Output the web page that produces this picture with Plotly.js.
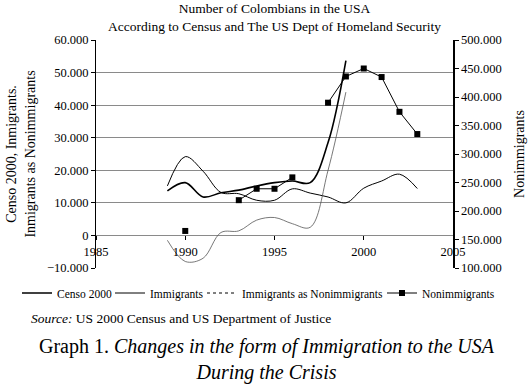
<!DOCTYPE html>
<html>
<head>
<meta charset="utf-8">
<script src="https://cdn.plot.ly/plotly-3.0.1.min.js"></script>
<style>
  html, body { margin: 0; padding: 0; background: #fff; }
  #grafico { width: 531px; height: 385px; }
</style>
</head>
<body>
<div id="grafico"></div>
<script>
// datos
const anios = [1989, 1990, 1991, 1992, 1993, 1994, 1995, 1996, 1997, 1998, 1999, 2000, 2001, 2002, 2003];
const censo2000 = [13700, 16200, 11800, 13100, 13900, 15200, 16200, 16700, 16200, 28500, 53700];
const inmigrantes = [15200, 24200, 19700, 13200, 12800, 10800, 10800, 14300, 13000, 11800, 10000, 14500, 16700, 18800, 14400];
const inmComoNoInm = [-1500, -8000, -7000, 900, 1400, 4700, 5500, 3600, 2500, 20000, 44000];
const noInmigrantes = [null, 165000, null, null, 219000, 239000, 239000, 259000, null, 390000, 436000, 450000, 435000, 374000, 335000];

const fuente = "Liberation Serif";

const trazas = [
    {
        x: anios.slice(0, censo2000.length),
        y: censo2000,
        type: "scatter",
        mode: "lines",
        name: "Censo 2000",
        legendwidth: 48,
        line: { color: "#000", width: 1.6, shape: "spline" }
    },
    {
        x: anios,
        y: inmigrantes,
        type: "scatter",
        mode: "lines",
        name: "Immigrants",
        legendwidth: 47,
        line: { color: "#000", width: 1, shape: "spline" }
    },
    {
        x: anios.slice(0, inmComoNoInm.length),
        y: inmComoNoInm,
        type: "scatter",
        mode: "lines",
        name: "Immigrants as Nonimmigrants",
        legendgroup: "ian",
        showlegend: false,
        line: { color: "#555", width: 0.8, shape: "spline" }
    },
    {
        // solo para la leyenda (linea discontinua)
        x: [null],
        y: [null],
        type: "scatter",
        mode: "lines",
        name: "Immigrants as Nonimmigrants",
        legendgroup: "ian",
        line: { color: "#000", width: 1, dash: "3px,3px" }
    },
    {
        x: anios,
        y: noInmigrantes,
        type: "scatter",
        mode: "lines+markers",
        name: "Nonimmigrants",
        yaxis: "y2",
        legend: "legend2",
        connectgaps: false,
        line: { color: "#000", width: 1 },
        marker: { symbol: "square", size: 6, color: "#000" }
    }
];

const layout = {
    width: 531,
    height: 385,
    margin: { l: 96, r: 78, t: 40, b: 117 },
    paper_bgcolor: "#fff",
    plot_bgcolor: "#fff",
    separators: ",.",
    font: { family: fuente, size: 12, color: "#000" },
    showlegend: true,
    title: {
        text: "Number of Colombians in the USA<br>According to Census and The US Dept of Homeland Security",
        font: { family: fuente, size: 13.5, color: "#000" },
        x: 0.5,
        xref: "paper",
        y: 1 - 13 / 385,
        yref: "container",
        yanchor: "middle"
    },
    xaxis: {
        range: [1985, 2005],
        dtick: 5,
        tick0: 1985,
        anchor: "free",
        position: 1 / 7,
        showgrid: false,
        zeroline: false,
        showline: false,
        ticks: "outside",
        ticklen: 4,
        tickcolor: "#000",
        ticklabelstandoff: 1,
        tickfont: { family: fuente, size: 12.5 }
    },
    yaxis: {
        range: [-10000, 60000],
        dtick: 10000,
        tickformat: ",d",
        showgrid: true,
        gridcolor: "#8a8a8a",
        gridwidth: 1,
        zeroline: false,
        showline: true,
        linecolor: "#000",
        linewidth: 1,
        ticks: "outside",
        ticklen: 4,
        tickcolor: "#000",
        tickfont: { family: fuente, size: 12.5 },
        automargin: false,
        title: {
            text: "Censo 2000, Inmigrants.<br>Inmigrants as Nonimmigrants",
            font: { family: fuente, size: 14 },
            standoff: 8
        }
    },
    yaxis2: {
        range: [100000, 500000],
        dtick: 50000,
        tickformat: ",d",
        overlaying: "y",
        side: "right",
        showgrid: false,
        zeroline: false,
        showline: true,
        linecolor: "#000",
        linewidth: 1.6,
        ticks: "outside",
        ticklen: 4,
        tickcolor: "#000",
        tickfont: { family: fuente, size: 12.5 },
        automargin: false,
        title: {
            text: "Nonimmigrants",
            font: { family: fuente, size: 14 },
            standoff: 13
        }
    },
    legend: {
        orientation: "h",
        xref: "paper",
        yref: "paper",
        x: (17 - 96) / 357,
        y: -(293 - 268) / 228,
        xanchor: "left",
        yanchor: "middle",
        itemwidth: 30,
        font: { family: fuente, size: 11.5 },
        bgcolor: "rgba(0,0,0,0)"
    },
    legend2: {
        orientation: "h",
        xref: "paper",
        yref: "paper",
        x: (382 - 96) / 357,
        y: -(293 - 268) / 228,
        xanchor: "left",
        yanchor: "middle",
        itemwidth: 30,
        font: { family: fuente, size: 11.5 },
        bgcolor: "rgba(0,0,0,0)"
    },
    annotations: [
        {
            text: "<i>Source:</i> US 2000 Census and US Department of Justice",
            xref: "paper",
            yref: "paper",
            x: -67 / 357,
            y: -(318 - 268) / 228,
            xanchor: "left",
            yanchor: "middle",
            showarrow: false,
            font: { family: fuente, size: 13.5 }
        },
        {
            text: "Graph 1. <i>Changes in the form of Immigration to the USA</i><br><i>During the Crisis</i>",
            xref: "paper",
            yref: "paper",
            x: (267 - 96) / 357,
            y: -(359.5 - 268) / 228,
            xanchor: "center",
            yanchor: "middle",
            showarrow: false,
            font: { family: fuente, size: 20 }
        }
    ]
};

Plotly.newPlot("grafico", trazas, layout, { displayModeBar: false, staticPlot: true });
</script>
</body>
</html>
